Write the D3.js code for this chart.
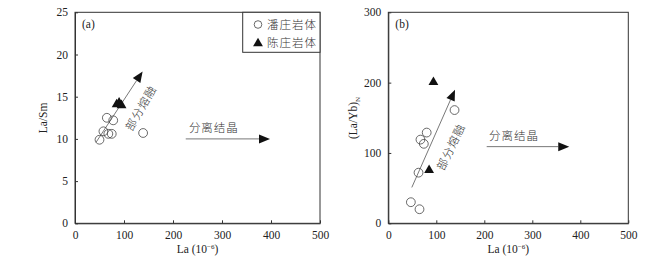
<!DOCTYPE html>
<html>
<head>
<meta charset="utf-8">
<script src="https://cdn.jsdelivr.net/npm/d3@7"></script>
<style>
  body { margin: 0; background: #fff; }
  svg text { fill: #222; }
  .num { font-family: "Liberation Serif", "DejaVu Serif", serif; font-size: 11.5px; }
  .cjk { font-family: "Noto Sans CJK SC", sans-serif; font-size: 11.5px; font-weight: 300; }
  svg text.cjk { fill: #333; }
</style>
</head>
<body>
<svg id="chart"></svg>
<script>
// values, La in 10^-6
const xTicks = [0, 100, 200, 300, 400, 500];
const yTicksA = [0, 5, 10, 15, 20, 25];
const yTicksB = [0, 100, 200, 300];

// (a) La vs La/Sm
const panzhuangA = [[50, 9.9], [65, 12.5], [78, 12.2], [58, 10.9], [68, 10.6], [75, 10.6], [139, 10.7]];
const chenzhuangA = [[85, 14.2], [90, 14.4], [95, 14.1]];
// (b) La vs (La/Yb)N
const panzhuangB = [[47, 30], [65, 20], [63, 72], [67, 119], [74, 113], [80, 129], [138, 161]];
const chenzhuangB = [[94, 202], [85, 77]];

// annotation arrows, data units [start, end]
const meltA = [[43, 9.6], [138, 18]];
const crystA = [[226, 10], [398, 10]];
const meltB = [[49, 51], [139, 190]];
const crystB = [[205, 109], [377, 109]];

const legendNames = ["潘庄岩体", "陈庄岩体"];

const width = 659, height = 260;
const svg = d3.select("#chart").attr("width", width).attr("height", height);

const triangle = d3.symbol().type(d3.symbolTriangle).size(42);

function panel(opt) {
  const x = d3.scaleLinear().domain([0, 500]).range([opt.left, opt.right]);
  const y = d3.scaleLinear().domain(opt.yDomain).range([223.3, 12.3]);
  const g = svg.append("g");

  // frame
  g.append("rect")
    .attr("x", opt.left).attr("y", 12.3)
    .attr("width", opt.right - opt.left).attr("height", 211)
    .attr("fill", "none").attr("stroke", "#333").attr("stroke-width", 1);

  const xAxis = d3.axisBottom(x).tickValues(xTicks).tickSizeInner(-3).tickSizeOuter(0).tickPadding(8);
  const yAxis = d3.axisLeft(y).tickValues(opt.yTicks).tickSizeInner(-3).tickSizeOuter(0).tickPadding(7);

  const gx = g.append("g").attr("transform", `translate(0,${y(0)})`).call(xAxis);
  const gy = g.append("g").attr("transform", `translate(${opt.left},0)`).call(yAxis);
  [gx, gy].forEach(a => {
    a.select(".domain").attr("stroke", "#333");
    a.selectAll(".tick line").attr("stroke", "#333");
    a.selectAll(".tick text").attr("class", "num").attr("fill", "#222");
  });

  // axis titles
  const xt = g.append("text").attr("class", "num")
    .attr("x", (opt.left + opt.right) / 2).attr("y", 253)
    .attr("text-anchor", "middle");
  xt.append("tspan").text("La (10");
  xt.append("tspan").attr("dy", -4).attr("font-size", "7px").text("−6");
  xt.append("tspan").attr("dy", 4).text(")");

  const yt = g.append("text").attr("class", "num")
    .attr("transform", `translate(${opt.yTitleX},118) rotate(-90)`)
    .attr("text-anchor", "middle");
  if (opt.sub) {
    yt.append("tspan").text(opt.yTitle);
    yt.append("tspan").attr("dy", 3).attr("font-size", "7px").text(opt.sub);
  } else {
    yt.text(opt.yTitle);
  }

  g.append("text").attr("class", "num")
    .attr("x", opt.left + 7).attr("y", 28).text(opt.tag);

  // arrows
  function arrow(seg) {
    const x0 = x(seg[0][0]), y0 = y(seg[0][1]), x1 = x(seg[1][0]), y1 = y(seg[1][1]);
    const ang = Math.atan2(y1 - y0, x1 - x0);
    const L = 11, W = 4.5;
    const bx = x1 - L * Math.cos(ang), by = y1 - L * Math.sin(ang);
    g.append("line")
      .attr("x1", x0).attr("y1", y0).attr("x2", bx).attr("y2", by)
      .attr("stroke", "#555").attr("stroke-width", 0.8);
    g.append("path")
      .attr("d", `M${x1},${y1}L${bx - W * Math.sin(ang)},${by + W * Math.cos(ang)}L${bx + W * Math.sin(ang)},${by - W * Math.cos(ang)}Z`)
      .attr("fill", "#111");
  }
  arrow(opt.melt);
  arrow(opt.cryst);

  g.append("text").attr("class", "cjk")
    .attr("x", (x(opt.cryst[0][0]) + x(opt.cryst[1][0])) / 2 - 14)
    .attr("y", y(opt.cryst[0][1]) - 7)
    .attr("text-anchor", "middle").attr("letter-spacing", "1px").text("分离结晶");

  g.append("text").attr("class", "cjk")
    .attr("transform", `translate(${opt.meltLabel[0]},${opt.meltLabel[1]}) rotate(${opt.meltAngle})`)
    .attr("text-anchor", "middle").attr("dy", "0.35em").attr("letter-spacing", "1px").text("部分熔融");

  // points
  g.selectAll("circle.pz").data(opt.circles).join("circle")
    .attr("class", "pz")
    .attr("cx", d => x(d[0])).attr("cy", d => y(d[1])).attr("r", 4.4)
    .attr("fill", "none").attr("stroke", "#444").attr("stroke-width", 0.8);

  g.selectAll("path.cz").data(opt.triangles).join("path")
    .attr("class", "cz")
    .attr("transform", d => `translate(${x(d[0])},${y(d[1]) + 1})`)
    .attr("d", triangle).attr("fill", "#111");

  return { x, y, g };
}

const a = panel({
  left: 75, right: 320, yDomain: [0, 25], yTicks: yTicksA,
  yTitle: "La/Sm", yTitleX: 47, tag: "(a)",
  circles: panzhuangA, triangles: chenzhuangA,
  melt: meltA, cryst: crystA, meltLabel: [141, 108], meltAngle: -60
});

const b = panel({
  left: 388.3, right: 628.3, yDomain: [0, 300], yTicks: yTicksB,
  yTitle: "(La/Yb)", sub: "N", yTitleX: 357, tag: "(b)",
  circles: panzhuangB, triangles: chenzhuangB,
  melt: meltB, cryst: crystB, meltLabel: [451, 147], meltAngle: -64
});

// legend in panel (a)
const lg = a.g.append("g");
lg.append("rect")
  .attr("x", 242.7).attr("y", 12.3).attr("width", 320 - 242.7).attr("height", 40)
  .attr("fill", "#fff").attr("stroke", "#333").attr("stroke-width", 1);
lg.append("circle").attr("cx", 258).attr("cy", 24.5).attr("r", 3.8)
  .attr("fill", "none").attr("stroke", "#444").attr("stroke-width", 0.8);
lg.append("path").attr("transform", "translate(258,43.5)").attr("d", triangle).attr("fill", "#111");
lg.selectAll("text.lg").data(legendNames).join("text")
  .attr("class", "cjk lg")
  .attr("x", 267).attr("y", (d, i) => 24.5 + i * 18.5).attr("dy", "0.35em")
  .attr("letter-spacing", "1px")
  .text(d => d);
</script>
</body>
</html>
